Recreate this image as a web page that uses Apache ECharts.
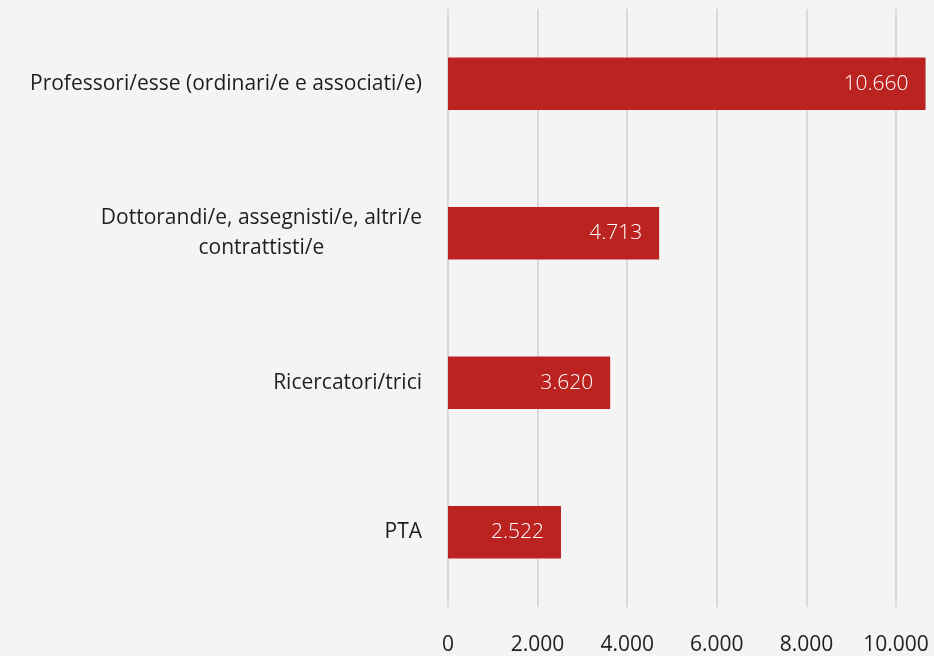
<!DOCTYPE html>
<html>
<head>
<meta charset="utf-8">
<script src="https://cdn.jsdelivr.net/npm/echarts@6/dist/echarts.min.js"></script>
<style>
  html, body { margin: 0; padding: 0; background: #f4f4f4; }
  #main { width: 934px; height: 656px; }
</style>
</head>
<body>
<div id="main"></div>
<script>
// categories from top to bottom
var categories = [
  'Professori/esse (ordinari/e e associati/e)',
  'Dottorandi/e, assegnisti/e, altri/e\ncontrattisti/e',
  'Ricercatori/trici',
  'PTA'
]
var values = [10660, 4713, 3620, 2522]

// italian thousands separator
function fmt (v) {
  return String(v).replace(/\B(?=(\d{3})+(?!\d))/g, '.')
}

var myChart = echarts.init(document.getElementById('main'))

var option = {
  backgroundColor: '#f4f4f4',
  textStyle: { fontFamily: 'Open Sans' },
  grid: {
    left: 448,
    top: 9,
    width: 448,
    height: 600,
    containLabel: false
  },
  xAxis: {
    type: 'value',
    min: 0,
    max: 10000,
    interval: 2000,
    axisLine: { show: false },
    axisTick: { show: false },
    splitLine: { lineStyle: { color: '#d9d9d9', width: 2 } },
    axisLabel: {
      color: '#1e1e1e',
      fontSize: 21,
      margin: 28,
      formatter: fmt
    }
  },
  yAxis: {
    type: 'category',
    inverse: true,
    data: categories,
    axisLine: { show: false },
    axisTick: { show: false },
    axisLabel: {
      color: '#1e1e1e',
      fontSize: 21,
      margin: 26,
      formatter: function (v) {
        return v.split('\n').map(function (s) { return '{c|' + s + '}' }).join('\n')
      },
      rich: {
        c: { align: 'center', fontSize: 21, color: '#1e1e1e', lineHeight: 30, fontFamily: 'Open Sans' }
      }
    }
  },
  series: [{
    type: 'bar',
    data: values,
    barWidth: '35%',
    clip: false,
    itemStyle: { color: '#bb2320' },
    label: {
      show: true,
      position: 'insideRight',
      distance: 17,
      color: '#fff',
      fontSize: 21,
      fontWeight: 300,
      formatter: function (p) { return fmt(p.value) }
    }
  }]
}

myChart.setOption(option)
</script>
</body>
</html>
